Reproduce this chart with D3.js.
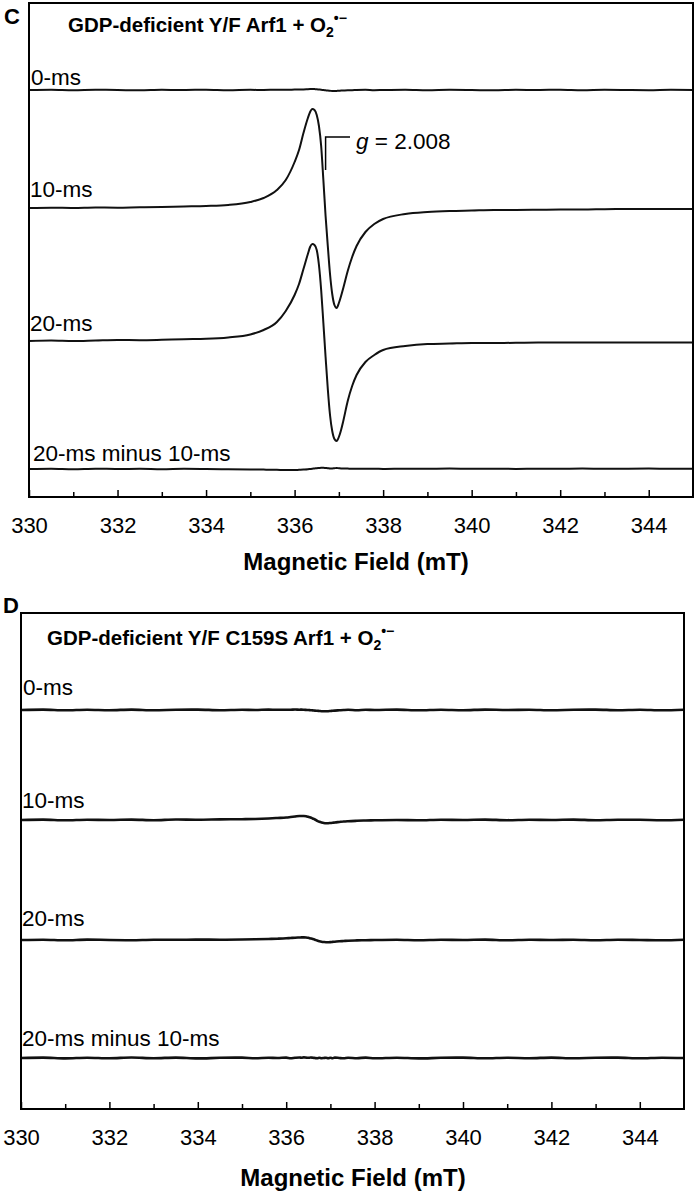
<!DOCTYPE html>
<html>
<head>
<meta charset="utf-8">
<script src="https://cdn.jsdelivr.net/npm/d3@7"></script>
<style>
  body { margin: 0; background: #fff; }
  text { font-family: "Liberation Sans", Arial, Helvetica, sans-serif; fill: #000; }
</style>
</head>
<body>
<div id="chart"></div>
<script>

// magnetic field sample points (mT), shared by every trace
var fields = [330, 330.5, 331, 331.5, 332, 332.5, 333, 333.5, 334, 334.5,
  335, 335.3, 335.6, 335.8, 336.0, 336.1, 336.2, 336.3, 336.35, 336.4,
  336.45, 336.5, 336.55, 336.6, 336.65, 336.7, 336.75, 336.8, 336.85, 336.9,
  336.95, 337.0, 337.05, 337.1, 337.2, 337.3, 337.4, 337.6, 337.8, 338.0,
  338.5, 339, 339.5, 340, 340.5, 341, 341.5, 342, 342.5, 343,
  343.5, 344, 344.5, 345];

// panel C: GDP-deficient Y/F Arf1 (derivative signal, arbitrary units)
var c0ms = [0, 0.3, -0.2, 0.2, 0, -0.3, 0.2, 0, 0.3, -0.2,
  0.2, 0, 0.3, 0.2, 0.4, 0.5, 0.6, 0.8, 0.9, 1,
  0.9, 0.8, 0.5, 0.2, 0, -0.3, -0.6, -0.8, -1, -1,
  -0.9, -0.8, -0.6, -0.5, -0.3, -0.2, 0, 0.2, -0.2, 0,
  0.3, -0.2, 0.2, 0, -0.3, 0.2, 0, 0.3, -0.2, 0.2,
  0, -0.2, 0.2, 0];
var c10ms = [0, 0.3, 0, 0.5, 0.3, 0.8, 1, 1.5, 2, 3,
  6, 10, 18, 28, 46, 58, 75, 90, 96, 99,
  98, 93, 82, 62, 28, -8, -38, -66, -86, -97,
  -100, -95, -88, -80, -63, -49, -38, -24, -16, -11,
  -6, -4, -3, -2.5, -2, -2, -1.8, -1.5, -1.5, -1.2,
  -1, -1, -1, -1];
var c20ms = [0, 0.5, 0, 0.5, 1, 0.8, 1.2, 1.8, 2.2, 3.5,
  6.5, 11, 19, 30, 46, 57, 72, 87, 94, 97,
  96, 91, 76, 51, 18, -16, -48, -74, -90, -98,
  -100, -96, -89, -80, -60, -45, -34, -21, -14, -9,
  -5, -3, -2.5, -2, -2, -1.8, -1.5, -1.5, -1.5, -1.5,
  -1.5, -1.5, -1.5, -1.5];
var cDiff = [0, 0.3, -0.2, 0.3, 0, 0.2, -0.2, 0.2, 0, -0.3,
  -0.5, -0.6, -0.8, -1, -1, -0.8, -0.6, -0.3, 0, 0.3,
  0.5, 0.8, 1, 1.2, 1.2, 1, 0.8, 0.5, 0.6, 0.8,
  1, 0.8, 0.6, 0.5, 0.4, 0.3, 0.3, 0.2, 0.3, 0,
  0.3, 0.2, 0.4, 0.2, 0.3, 0.1, 0.3, 0.2, 0.4, 0.2,
  0.3, 0.4, 0.2, 0.3];

// panel D: GDP-deficient Y/F C159S Arf1
var d0ms = [0, 0.4, -0.3, 0.3, -0.2, 0.4, -0.3, 0.2, 0.4, -0.2,
  0.3, 0, 0.4, 0.2, 0.3, 0.2, 0.5, 0.3, 0.4, 0.2,
  0.1, 0, -0.2, -0.4, -0.6, -0.8, -1, -1.2, -1.2, -1.3,
  -1.2, -1, -0.8, -0.6, -0.3, 0, 0.2, -0.2, 0.3, 0,
  0.4, -0.3, 0.3, -0.2, 0.4, 0, 0.3, -0.3, 0.2, 0.4,
  -0.2, 0.3, -0.3, 0.2];
var d10ms = [0, 0.4, -0.3, 0.3, 0, 0.4, -0.2, 0.5, 0.3, 0.6,
  0.8, 1, 1.5, 2, 2.5, 3, 3.5, 4, 4, 4,
  3.8, 3.2, 2.5, 1.5, 0.5, -0.8, -1.8, -2.5, -3, -3.2,
  -3.2, -3, -2.8, -2.5, -2, -1.5, -1.2, -0.8, -0.5, -0.3,
  0, -0.3, 0.3, 0, 0.4, -0.2, 0.3, 0, 0.4, -0.2,
  0.3, 0.2, -0.2, 0.3];
var d20ms = [0, 0.3, -0.3, 0.4, 0, -0.2, 0.3, 0.2, 0.4, 0.3,
  0.5, 0.7, 1, 1.3, 1.7, 2, 2.3, 2.5, 2.6, 2.6,
  2.5, 2.2, 1.6, 1, 0.3, -0.5, -1.2, -1.7, -2, -2.2,
  -2.2, -2.1, -1.9, -1.7, -1.3, -1, -0.7, -0.4, -0.2, 0,
  0.3, -0.2, 0.3, 0, 0.4, -0.3, 0.2, 0, 0.3, -0.2,
  0.3, 0, -0.3, 0.2];
var dDiff = [0, 0.4, -0.4, 0.3, -0.3, 0.5, -0.2, 0.4, -0.4, 0.2,
  0.4, -0.3, 0.3, 0, 0.4, -0.3, 0.2, 0.5, 0.3, 0.6,
  0.4, 0.2, 0.5, 0.3, 0, -0.3, 0.2, -0.2, 0, 0.3,
  -0.2, 0.2, -0.3, 0.4, 0, -0.3, 0.3, -0.2, 0.4, -0.3,
  0.3, -0.4, 0.2, 0.4, -0.3, 0.3, -0.2, 0.4, -0.3, 0.2,
  0.4, -0.3, 0.3, 0];

var traceLabels = ['0-ms', '10-ms', '20-ms', '20-ms minus 10-ms'];
var majorTicks = [330, 332, 334, 336, 338, 340, 342, 344];
var minorTicks = [331, 333, 335, 337, 339, 341, 343];
var gValue = '2.008';
var gField = 336.70;

var svg = d3.select('#chart').append('svg')
  .attr('width', 696)
  .attr('height', 1192);

svg.append('rect').attr('width', 696).attr('height', 1192).attr('fill', '#fff');

// intensity -> pixel offset from each trace's baseline
var y = d3.scaleLinear().domain([-100, 100]).range([100, -100]);

var panels = [
  {
    letter: 'C', title: 'GDP-deficient Y/F Arf1 + O',
    left: 29, right: 693, top: 3, bottom: 497,
    letterX: 4, letterY: 24, titleX: 68, titleY: 32,
    traces: [c0ms, c10ms, c20ms, cDiff],
    baselines: [90, 208, 341, 469],
    labelX: [31, 30, 30, 33], labelY: [85, 197, 331, 461],
    stroke: 2, axisTitleX: 356, axisTitleY: 570, g: true
  },
  {
    letter: 'D', title: 'GDP-deficient Y/F C159S Arf1 + O',
    left: 21, right: 684, top: 613, bottom: 1109,
    letterX: 3, letterY: 613, titleX: 47, titleY: 645,
    traces: [d0ms, d10ms, d20ms, dDiff],
    baselines: [710, 820, 940, 1058],
    labelX: [23, 22, 22, 22], labelY: [695, 808, 926, 1046],
    stroke: 2.6, axisTitleX: 353, axisTitleY: 1186, g: false
  }
];

panels.forEach(function (p) {

  var x = d3.scaleLinear().domain([330, 345]).range([p.left, p.right]);

  var line = d3.line()
    .x(function (d) { return x(d[0]); })
    .y(function (d) { return y(d[1]); })
    .curve(d3.curveMonotoneX);

  // traces
  p.traces.forEach(function (vals, i) {
    var pts = fields.map(function (f, k) { return [f, vals[k]]; });
    var g = svg.append('g').attr('transform', 'translate(0,' + p.baselines[i] + ')');
    g.append('path')
      .attr('d', line(pts))
      .attr('fill', 'none')
      .attr('stroke', '#111')
      .attr('stroke-width', p.stroke)
      .attr('stroke-linejoin', 'round');

    svg.append('text')
      .attr('x', p.labelX[i])
      .attr('y', p.labelY[i])
      .attr('font-size', 22.5)
      .text(traceLabels[i]);
  });

  // frame
  svg.append('rect')
    .attr('x', p.left).attr('y', p.top)
    .attr('width', p.right - p.left).attr('height', p.bottom - p.top)
    .attr('fill', 'none').attr('stroke', '#000').attr('stroke-width', 2);

  // x axis, ticks pointing inward
  var major = svg.append('g')
    .attr('transform', 'translate(0,' + p.bottom + ')')
    .call(d3.axisBottom(x).tickValues(majorTicks).tickSize(-7).tickFormat(d3.format('d')));
  major.select('.domain').remove();
  major.selectAll('line').attr('stroke-width', 1.5);
  major.selectAll('text')
    .attr('y', 36).attr('dy', null)
    .attr('font-size', 22)
    .attr('font-family', '"Liberation Sans", Arial, sans-serif')
    .attr('fill', '#000');

  var minor = svg.append('g')
    .attr('transform', 'translate(0,' + p.bottom + ')')
    .call(d3.axisBottom(x).tickValues(minorTicks).tickSize(-5).tickFormat(''));
  minor.select('.domain').remove();
  minor.selectAll('line').attr('stroke-width', 1.5);

  svg.append('text')
    .attr('x', p.axisTitleX).attr('y', p.axisTitleY)
    .attr('text-anchor', 'middle')
    .attr('font-size', 24).attr('font-weight', 'bold')
    .text('Magnetic Field (mT)');

  // panel letter and title
  svg.append('text')
    .attr('x', p.letterX).attr('y', p.letterY)
    .attr('font-size', 22).attr('font-weight', 'bold')
    .text(p.letter);

  var t = svg.append('text')
    .attr('x', p.titleX).attr('y', p.titleY)
    .attr('font-size', 20.5).attr('font-weight', 'bold');
  t.append('tspan').text(p.title);
  t.append('tspan').attr('dy', 5).attr('font-size', 14).text('2');
  t.append('tspan').attr('dy', -14).attr('font-size', 14).text('\u2022\u2212');

  // g-value marker
  if (p.g) {
    var gx = x(gField);
    svg.append('path')
      .attr('d', 'M' + gx + ',170V137H350')
      .attr('fill', 'none').attr('stroke', '#000').attr('stroke-width', 1.5);
    var gt = svg.append('text').attr('x', 356).attr('y', 149).attr('font-size', 22.5);
    gt.append('tspan').attr('font-style', 'italic').text('g');
    gt.append('tspan').text(' = ' + gValue);
  }
});

</script>
</body>
</html>
